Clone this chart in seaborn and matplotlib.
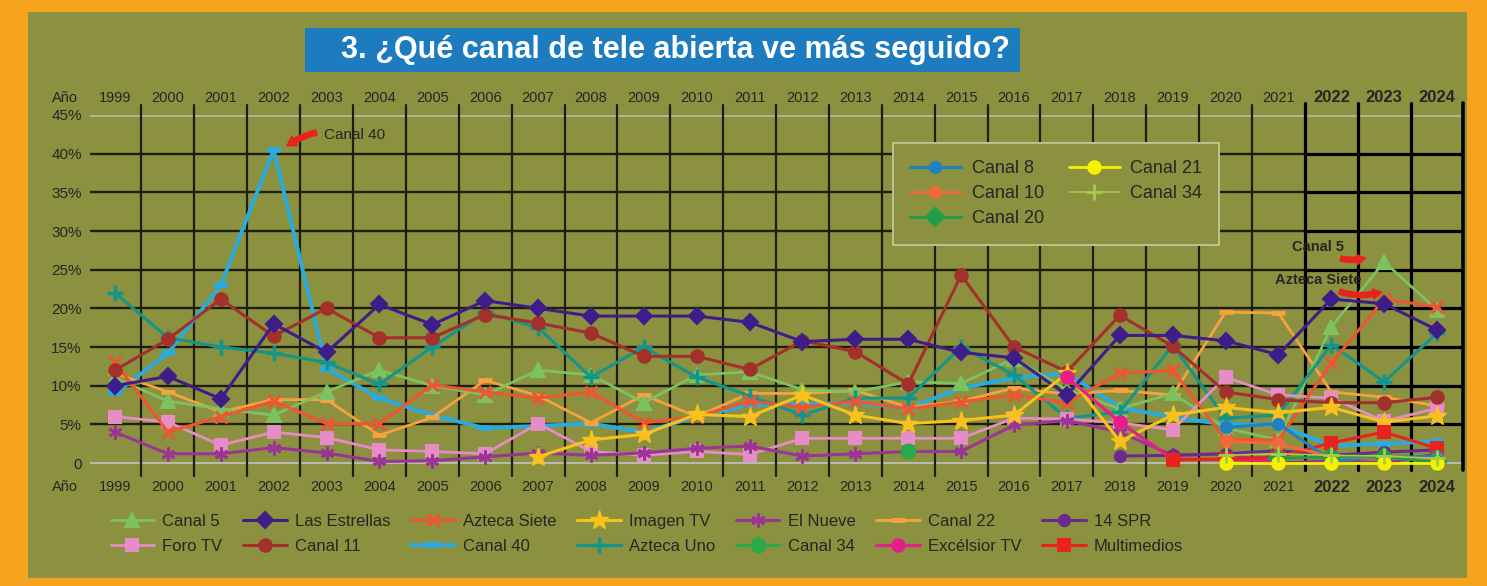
import numpy as np
import pandas as pd
import matplotlib
matplotlib.use("Agg")
import matplotlib.pyplot as plt
from matplotlib.patches import Rectangle
import seaborn as sns

# ---------------- data ----------------
years = list(range(1999, 2025))
nan = np.nan

canal5 = [11, 8, 7, 6.2, 9.2, 12, 10, 8.8, 12, 11.4, 7.8, 11.4, 11.8, 9.5, 9.2, 10.5, 10.3, 13.5, 9.5, 7, 9, 4.5, 3, 17.6, 26, 19.8]
las_estrellas = [10, 11.2, 8.3, 18, 14.3, 20.5, 17.9, 21, 20, 19, 19, 19, 18.2, 15.7, 16, 16, 14.3, 13.6, 8.8, 16.5, 16.5, 15.8, 14, 21.2, 20.6, 17.2]
azteca_siete = [13, 4, 6, 8, 5.1, 5.1, 10.1, 9.2, 8.4, 9.2, 5.2, 6, 8, 7.2, 8, 7, 7.9, 8.8, 7.8, 11.6, 12, 3, 3, 12.9, 21.2, 20.2]
imagen_years = list(range(2007, 2025))
imagen_tv = [0.8, 3, 3.7, 6.3, 6, 8.8, 6.2, 5.1, 5.5, 6.2, 11.6, 2.8, 6.2, 7.2, 6.5, 7.2, 5.3, 6.1]
el_nueve = [4, 1.2, 1.2, 2, 1.3, 0.2, 0.3, 0.8, 1.3, 1, 1.3, 1.9, 2.2, 0.9, 1.2, 1.5, 1.5, 4.9, 5.5, 4, 1, 1.2, 0, 0.3, 0, 1.2]
canal22 = [11.6, 9.2, 6.6, 8.2, 8.2, 3.6, 5.9, 10.7, 8.7, 5.2, 8.8, 6, 9, 9, 9.4, 7.2, 8, 9.7, 8.9, 9.4, 8.8, 19.5, 19.4, 9.2, 8.5, 7.4]
spr_years = list(range(2018, 2025))
spr14 = [0.9, 1, 1.2, 1.6, 1, 1.4, 1.7]
foro_tv = [6, 5.3, 2.3, 4, 3.3, 1.7, 1.5, 1.2, 5.1, 1.5, 1, 1.5, 1.1, 3.2, 3.2, 3.2, 3.2, 5.8, 5.7, 5.2, 4.3, 11.1, 8.8, 8.4, 5.4, 7.1]
canal11 = [12, 16, 21.2, 16.4, 20, 16.2, 16.2, 19.2, 18.1, 16.8, 13.8, 13.8, 12.1, 15.8, 14.4, 10.2, 24.3, 15, 11.8, 19.1, 15.1, 9.2, 8.2, 7.8, 7.8, 8.5]
canal40 = [9, 14.2, 23, 40.5, 12.2, 8.4, 6.2, 4.5, 4.8, 5.1, 4, 6, 7.5, 7.6, 7.8, 7.1, 9.7, 11, 11.6, 7.2, 5.9, 5, 5, 2.2, 2.5, 2.8]
azteca_uno = [22, 16.2, 15, 14.2, 13, 10.2, 15, 19.5, 17.5, 11.1, 15, 11.1, 8.7, 6.2, 8.4, 8.4, 15, 11.4, 5.8, 6.6, 15.2, 5.8, 6.2, 15.3, 10.5, 16.8]
canal34_years = [2014]
canal34 = [1.5]
excelsior_years = [2017, 2018, 2019, 2020, 2021]
excelsior_tv = [11.1, 5.3, 0.5, 0.5, 0.2]
multi_years = [2019, 2020, 2021, 2022, 2023, 2024]
multimedios = [0.4, 0.5, 0.8, 2.6, 4.0, 1.9]

# inset-legend channels
late_years = [2020, 2021, 2022, 2023, 2024]
canal8 = [4.6, 5.1, 0.3, 0.7, 0.9]
canal10 = [2.8, 2.5, 0.8, 0.6, 0.5]
canal20_years = [2021, 2022, 2023, 2024]
canal20 = [0.6, 0.8, 0.8, 0.1]
canal21 = [0, 0, 0, 0, 0]
canal34b = [1, 1.2, 1, 0.9, 0.6]

year_labels = [str(y) for y in years]
ytick_vals = list(range(0, 50, 5))
ytick_labels = ["0"] + [f"{v}%" for v in ytick_vals[1:]]

# ---------------- style ----------------
sns.set_style("white")
plt.rcParams['font.family'] = ['Liberation Sans', 'DejaVu Sans']

OLIVE = "#8b913f"
ORANGE = "#f5a31d"
BLUE = "#1c7cbf"

fig = plt.figure(figsize=(14.87, 5.86), dpi=100)
fig.patch.set_facecolor(ORANGE)
fig.add_artist(Rectangle((0.0188, 0.0137), 0.968, 0.966, transform=fig.transFigure,
                         facecolor=OLIVE, edgecolor="none", zorder=-2))

ax = fig.add_axes([90/1487, (586-470)/586, (1463-90)/1487, (470-115)/586])
ax.set_facecolor("none")
X0, X1 = 1998.527, 2024.49
ax.set_xlim(X0, X1)
ax.set_ylim(-0.9, 45)
for s in ax.spines.values():
    s.set_visible(False)

# grid
for v in range(5, 45, 5):
    ax.plot([X0, 2021.5], [v, v], color="#1d1f0c", lw=1.7, zorder=1)
    ax.plot([2021.5, X1], [v, v], color="#000000", lw=2.3, zorder=1)
ax.plot([X0, X1], [45, 45], color="#b3b3a8", lw=2, zorder=1)
ax.plot([X0, X1], [0, 0], color="#b9b9ae", lw=1.5, zorder=1)
for b in np.arange(1999.5, 2024.5, 1.0):
    if b < 2021:
        ax.plot([b, b], [-1.7, 46.3], color="#1d1f0c", lw=1.6, zorder=1, clip_on=False)
    else:
        ax.plot([b, b], [-0.9, 46.6], color="#000000", lw=2.3, zorder=1, clip_on=False)
ax.plot([X1, X1], [-0.9, 46.6], color="#000000", lw=2.6, zorder=1, clip_on=False)

handles = {}

def draw(label, xs, ys, color, marker, ms=8, lw=2.2, mew=1.5, z=3):
    df = pd.DataFrame({"year": xs, "v": ys}).dropna()
    n0 = len(ax.lines)
    sns.lineplot(data=df, x="year", y="v", ax=ax, color=color, marker=marker,
                 markersize=ms, linewidth=lw, markeredgewidth=mew,
                 markeredgecolor=color, markerfacecolor=color,
                 estimator=None, sort=False, legend=False, zorder=z)
    line = ax.lines[n0]
    line.set_label(label)
    line.set_clip_on(False)
    handles[label] = line

draw("Canal 40", years, canal40, "#28ace0", "_", ms=10, lw=2.8, mew=4)
draw("Canal 22", years, canal22, "#f8a23e", "_", ms=10, lw=2.0, mew=3.5)
draw("Canal 5", years, canal5, "#7cc260", "^", ms=10, lw=2.0)
draw("Azteca Uno", years, azteca_uno, "#12958a", "+", ms=11, lw=2.2, mew=2.5)
draw("Foro TV", years, foro_tv, "#e68cc6", "s", ms=9, lw=2.0)
draw("El Nueve", years, el_nueve, "#9a3596", (6, 2, 0), ms=10, lw=2.2, mew=2)
draw("Azteca Siete", years, azteca_siete, "#ee5530", "x", ms=9, lw=2.2, mew=2.2)
draw("Canal 11", years, canal11, "#a3302a", "o", ms=9, lw=2.2)
draw("Las Estrellas", years, las_estrellas, "#3e1c8a", "D", ms=8.5, lw=2.2)
draw("Imagen TV", imagen_years, imagen_tv, "#f9c11c", "*", ms=14, lw=2.2, mew=1)
draw("14 SPR", spr_years, spr14, "#6c2b8c", "o", ms=8, lw=2.2)
draw("Canal 34", canal34_years, canal34, "#2aa84a", "o", ms=10, lw=2.2)
draw("Excélsior TV", excelsior_years, excelsior_tv, "#e41f8a", "o", ms=9, lw=2.2)
draw("Multimedios", multi_years, multimedios, "#e8231e", "s", ms=8, lw=2.2)
draw("Canal 8", late_years, canal8, "#1f80c2", "o", ms=8, lw=2.2)
draw("Canal 10", late_years, canal10, "#f26a3c", "o", ms=8, lw=2.0)
draw("Canal 20", canal20_years, canal20, "#1f9e48", "D", ms=9, lw=2.0)
draw("Canal 21", late_years, canal21, "#f7f000", "o", ms=9, lw=2.0)
draw("Canal 34 ", late_years, canal34b, "#a3cc4a", "+", ms=11, lw=1.2, mew=2)

if ax.get_legend() is not None:
    ax.get_legend().remove()

# ticks
ax.set_xticks([])
ax.set_yticks(ytick_vals)
ax.set_yticklabels(ytick_labels, fontsize=11)
ax.tick_params(axis="y", length=0, pad=6)
ax.set_xlabel("")
ax.set_ylabel("")

for y, lab in zip(years, year_labels):
    bold = y >= 2022
    fs = 12 if bold else 10.5
    fw = "bold" if bold else "normal"
    ax.text(y, 47.2, lab, ha="center", va="center", fontsize=fs, fontweight=fw, clip_on=False)
    ax.text(y, -3.1, lab, ha="center", va="center", fontsize=fs, fontweight=fw, clip_on=False)
ax.text(1998.05, 47.2, "Año", ha="center", va="center", fontsize=10.5, clip_on=False)
ax.text(1998.05, -3.1, "Año", ha="center", va="center", fontsize=10.5, clip_on=False)

# title
fig.add_artist(Rectangle((305/1487, (586-72)/586), 715/1487, 44/586, transform=fig.transFigure,
                         facecolor=BLUE, edgecolor="none", zorder=-1))
fig.text(675/1487, (586-50)/586, "3. ¿Qué canal de tele abierta ve más seguido?",
         ha="center", va="center", color="white", fontsize=22, fontweight="bold")

# annotations
arrow = dict(arrowstyle="simple,head_width=0.7,head_length=0.6,tail_width=0.35",
             color="#e8231e", connectionstyle="arc3,rad=0.25", shrinkA=3, shrinkB=0)
ax.annotate("Canal 40", xy=(2002.25, 41.0), xytext=(2002.95, 42.4), fontsize=11,
            va="center", ha="left", arrowprops=arrow, annotation_clip=False)
ax.annotate("Canal 5", xy=(2022.65, 26.5), xytext=(2021.75, 27.9), fontsize=10.5,
            fontweight="bold", va="center", ha="center", arrowprops=arrow, annotation_clip=False)
ax.annotate("Azteca Siete", xy=(2022.95, 22.1), xytext=(2021.75, 23.7), fontsize=10.5,
            fontweight="bold", va="center", ha="center", arrowprops=arrow, annotation_clip=False)

# inset legend
inset_labels = ["Canal 8", "Canal 10", "Canal 20", "Canal 21", "Canal 34 "]
leg1 = ax.legend([handles[k] for k in inset_labels], [k.strip() for k in inset_labels],
                 ncol=2, loc="upper left", bbox_to_anchor=(893/1487, 1-143/586),
                 bbox_transform=fig.transFigure, fontsize=13, frameon=True,
                 fancybox=False, facecolor=OLIVE, edgecolor="#c4c49a", framealpha=1,
                 borderpad=0.95, borderaxespad=0, handlelength=2.8, handletextpad=0.6,
                 columnspacing=1.4, labelspacing=0.45)
leg1.get_frame().set_linewidth(1.2)
ax.add_artist(leg1)

# bottom legend (row-major order via column-major interleave)
row1 = ["Canal 5", "Las Estrellas", "Azteca Siete", "Imagen TV", "El Nueve", "Canal 22", "14 SPR"]
row2 = ["Foro TV", "Canal 11", "Canal 40", "Azteca Uno", "Canal 34", "Excélsior TV", "Multimedios"]
order = [k for pair in zip(row1, row2) for k in pair]
fig.legend([handles[k] for k in order], order, ncol=7, loc="upper left",
           bbox_to_anchor=(104/1487, 1-507/586), frameon=False, fontsize=12,
           borderaxespad=0, handlelength=2.6, handletextpad=0.5, columnspacing=1.25,
           labelspacing=0.6)

fig.savefig("out.png", dpi=100, facecolor=fig.get_facecolor())
